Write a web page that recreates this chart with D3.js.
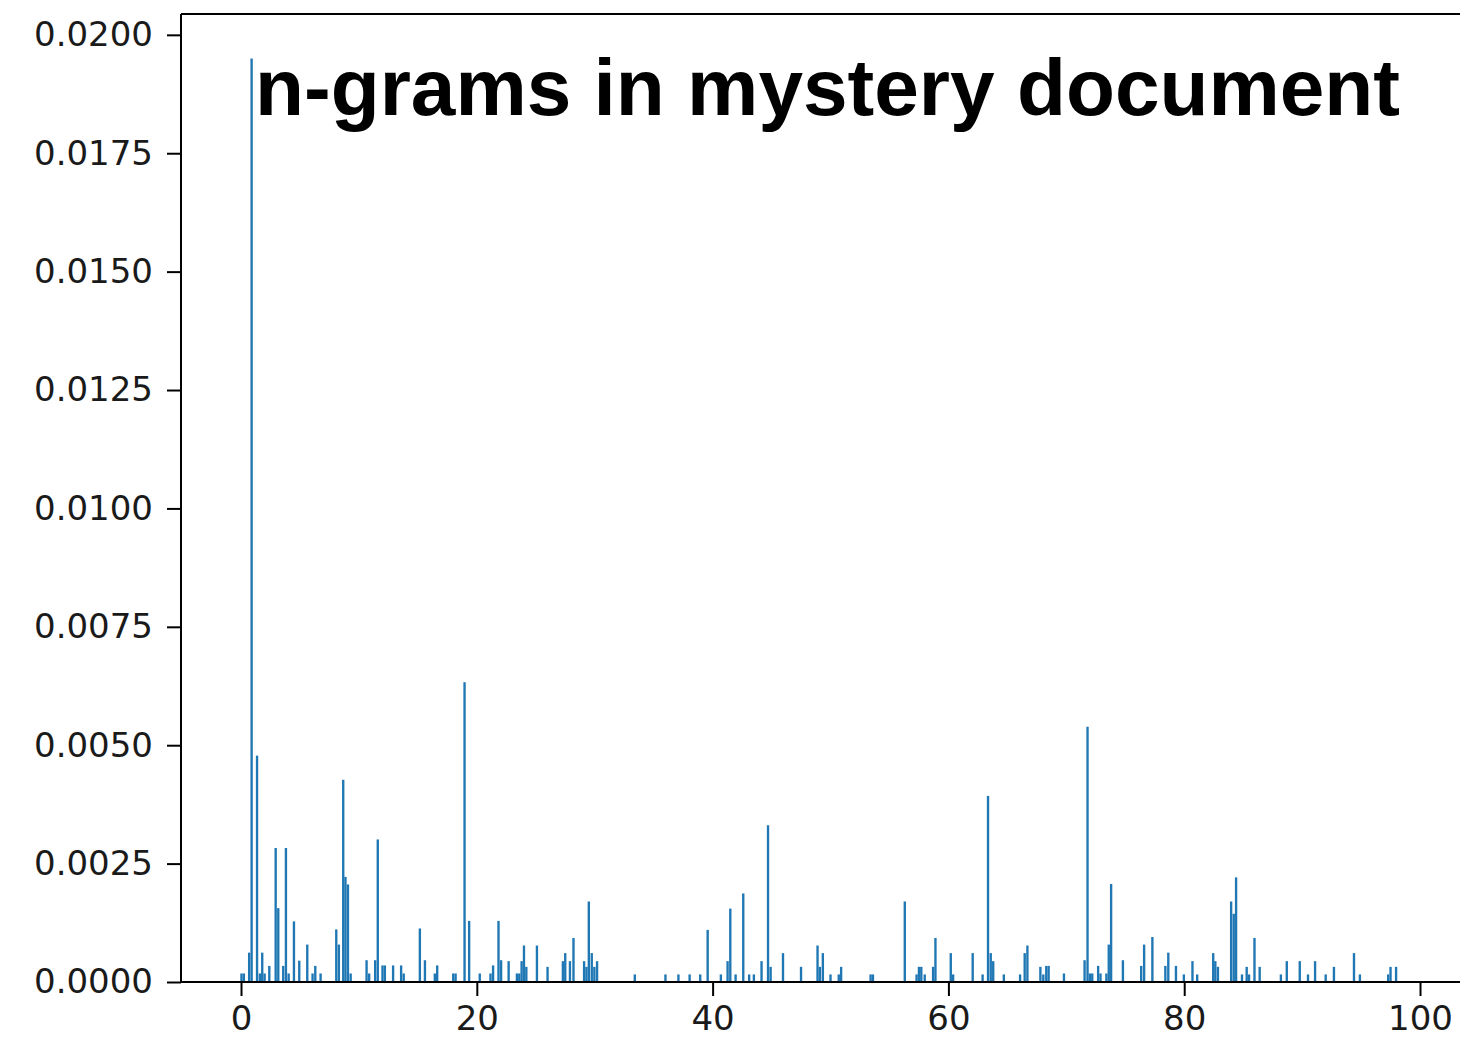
<!DOCTYPE html>
<html>
<head>
<meta charset="utf-8">
<script src="https://cdn.jsdelivr.net/npm/d3@7"></script>
<style>
  html, body { margin: 0; padding: 0; background: #ffffff; }
  svg { display: block; }
</style>
</head>
<body>
<svg id="chart" width="1460" height="1037"></svg>
<script>
// ---- data ----
const chartTitle = "n-grams in mystery document";
const positions = [
  0.04, 0.24, 0.69, 0.9, 1.36, 1.6, 1.8, 2.0, 2.4, 2.94, 3.16, 3.58, 3.81, 4.04, 4.49, 4.94,
  5.62, 6.07, 6.3, 6.75, 8.08, 8.3, 8.67, 8.86, 9.07, 9.3, 10.65, 10.87, 11.38, 11.6, 12.0, 12.2,
  12.9, 13.58, 13.8, 15.17, 15.6, 16.44, 16.64, 18.0, 18.2, 18.96, 19.35, 20.25, 21.16, 21.38,
  21.84, 22.06, 22.7, 23.4, 23.6, 23.8, 24.0, 24.2, 25.1, 26.0, 27.3, 27.5, 27.9, 28.2, 29.1,
  29.3, 29.5, 29.75, 29.97, 30.2, 33.4, 36.0, 37.1, 38.05, 38.95, 39.58, 40.7, 41.27, 41.5,
  41.95, 42.6, 43.1, 43.5, 44.15, 44.7, 44.92, 45.97, 47.5, 48.9, 49.1, 49.35, 50.0, 50.7, 50.9,
  53.4, 53.6, 56.3, 57.3, 57.5, 57.7, 57.99, 58.7, 58.9, 60.2, 60.4, 62.06, 62.9, 63.36, 63.59,
  63.8, 64.7, 66.08, 66.47, 66.7, 67.8, 68.05, 68.3, 68.5, 69.8, 71.55, 71.8, 72.0, 72.2, 72.7,
  72.9, 73.4, 73.6, 73.8, 74.8, 76.35, 76.6, 77.3, 78.4, 78.65, 79.3, 79.97, 80.7, 81.1, 82.46,
  82.64, 82.86, 83.98, 84.2, 84.4, 84.9, 85.3, 85.5, 85.96, 86.4, 88.2, 88.7, 89.8, 90.5, 91.1,
  92.0, 92.7, 94.4, 94.9, 97.3, 97.5, 97.97
];
const frequencies = [
  0.00018, 0.00018, 0.00062, 0.0195, 0.00478, 0.00018, 0.00062, 0.00018, 0.00034, 0.00283, 0.00156, 0.00034, 0.00283, 0.00018, 0.00128, 0.00045,
  0.00079, 0.00018, 0.00034, 0.00018, 0.00111, 0.00079, 0.00427, 0.00222, 0.00206, 0.00018, 0.00046, 0.00018, 0.00046, 0.00301, 0.00035, 0.00035,
  0.00035, 0.00035, 0.00018, 0.00113, 0.00046, 0.00018, 0.00035, 0.00018, 0.00018, 0.00633, 0.00129, 0.00018, 0.00018, 0.00035,
  0.00129, 0.00046, 0.00044, 0.00018, 0.00018, 0.00044, 0.00077, 0.00032, 0.00077, 0.00032, 0.00044, 0.00061, 0.00044, 0.00093, 0.00044,
  0.00032, 0.0017, 0.00061, 0.00032, 0.00044, 0.00016, 0.00016, 0.00016, 0.00016, 0.00016, 0.0011, 0.00016, 0.00044, 0.00155,
  0.00016, 0.00187, 0.00016, 0.00016, 0.00044, 0.00331, 0.00032, 0.00061, 0.00032, 0.00077, 0.00032, 0.00061, 0.00016, 0.00016, 0.00032,
  0.00016, 0.00016, 0.0017, 0.00016, 0.00032, 0.00032, 0.00016, 0.00032, 0.00093, 0.00061, 0.00016, 0.00061, 0.00016, 0.00393, 0.00061,
  0.00044, 0.00016, 0.00016, 0.00061, 0.00077, 0.00032, 0.00016, 0.00034, 0.00034, 0.00018, 0.00046, 0.00539, 0.00018, 0.00018, 0.00034,
  0.00018, 0.00018, 0.00079, 0.00207, 0.00046, 0.00034, 0.00079, 0.00095, 0.00034, 0.00062, 0.00034, 0.00016, 0.00044, 0.00016, 0.00061,
  0.00044, 0.00032, 0.0017, 0.00144, 0.00221, 0.00016, 0.00032, 0.00016, 0.00093, 0.00032, 0.00016, 0.00044, 0.00044, 0.00016, 0.00044,
  0.00016, 0.00032, 0.00061, 0.00016, 0.00016, 0.00032, 0.00032
];
const barWidth = 0.2;
const yTicks = [0, 0.0025, 0.005, 0.0075, 0.01, 0.0125, 0.015, 0.0175, 0.02];
const xTicks = [0, 20, 40, 60, 80, 100];

// ---- layout ----
const svg = d3.select("#chart");
const plotLeft = 181, plotRight = 1470, plotTop = 14, plotBottom = 982;

const x = d3.scaleLinear().domain([-5.09, 104.24]).range([plotLeft, plotRight]);
const y = d3.scaleLinear().domain([0, 0.02044]).range([plotBottom, plotTop]);

const bars = positions.map((p, i) => ({ p, v: frequencies[i] }));

svg.append("g")
  .selectAll("rect")
  .data(bars)
  .join("rect")
  .attr("x", d => x(d.p - barWidth / 2))
  .attr("width", d => x(d.p + barWidth / 2) - x(d.p - barWidth / 2))
  .attr("y", d => y(d.v))
  .attr("height", d => y(0) - y(d.v))
  .attr("fill", "#1f77b4");

// axes
const tickFont = "'DejaVu Sans', sans-serif";
const yAxis = svg.append("g")
  .attr("transform", `translate(${plotLeft},0)`)
  .call(d3.axisLeft(y).tickValues(yTicks).tickFormat(d3.format(".4f")).tickSize(14).tickPadding(14));
const xAxis = svg.append("g")
  .attr("transform", `translate(0,${plotBottom})`)
  .call(d3.axisBottom(x).tickValues(xTicks).tickFormat(d3.format("d")).tickSize(14).tickPadding(10));

[yAxis, xAxis].forEach(g => {
  g.select(".domain").remove();
  g.selectAll(".tick line").attr("stroke", "#000").attr("stroke-width", 2);
  g.selectAll(".tick text").attr("fill", "#1a1a1a").style("font-family", tickFont).style("font-size", "34px");
});

// spines
svg.append("line").attr("x1", plotLeft).attr("x2", plotLeft).attr("y1", plotTop).attr("y2", plotBottom)
  .attr("stroke", "#000").attr("stroke-width", 2);
svg.append("line").attr("x1", plotLeft).attr("x2", 1460).attr("y1", plotTop).attr("y2", plotTop)
  .attr("stroke", "#000").attr("stroke-width", 2);
svg.append("line").attr("x1", plotLeft).attr("x2", 1460).attr("y1", plotBottom).attr("y2", plotBottom)
  .attr("stroke", "#000").attr("stroke-width", 2);

// title
svg.append("text")
  .attr("x", 255)
  .attr("y", 115)
  .attr("textLength", 1145)
  .attr("lengthAdjust", "spacingAndGlyphs")
  .style("font-family", "'Liberation Sans', Arial, sans-serif")
  .style("font-weight", "bold")
  .style("font-size", "80px")
  .attr("fill", "#000")
  .text(chartTitle);
</script>
</body>
</html>
